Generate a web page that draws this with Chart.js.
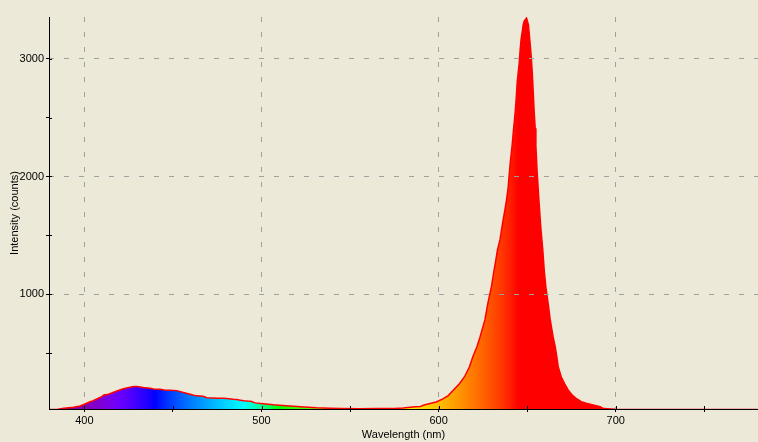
<!DOCTYPE html>
<html><head><meta charset="utf-8">
<script src="https://cdn.jsdelivr.net/npm/chart.js@4"></script>
<style>html,body{margin:0;padding:0;background:#ECE9D8;overflow:hidden}#wrap{width:758px;height:442px;position:relative}</style>
</head><body><div id="wrap"><canvas id="c"></canvas></div>
<script>
const wavelengths = [380,385,388.5,393.8,397.6,400,403.2,405,407,409.8,411,413.6,416.5,418.3,422,425.8,427.8,429.6,433.3,437.1,439,442.7,445,448.4,452.2,455.9,459.7,461.6,463.5,467,469.1,473,474.8,478.6,480.4,484,486.1,488,490,492,494,496.4,501,506.7,512,518,524,531,538.7,545,555,565,575,580,584,587,589.7,591.8,595.2,598.6,602.4,605.4,608.2,611.7,614.6,617.4,619.3,621.6,623.4,626.1,627.8,629.8,631.3,632.3,633.2,634.6,635.5,636.4,637.4,638.3,639.2,639.8,640.4,641.5,642.1,642.6,643.2,643.8,644.3,644.9,645.5,646.0,646.6,647.2,647.7,648.3,649.6,650.1,650.7,651.1,651.7,652.2,652.8,653.4,653.9,654.5,654.9,655.6,656.6,657.7,658.8,659.6,660.5,661.8,663.0,664.6,665.8,666.7,667.5,669.2,671.0,673.1,675.4,677.6,680.5,683.3,687.2,691.2,693,700,720,780];
const intensity = [22,24,32,41,52,66,88,97,111,131,145,151,168,179,198,211,216,216,208,202,196,194,188,186,182,166,151,142,139,134,122,120,117,117,116,108,106,101,96,93,92,78,71,62,56,50,44,37,32,30,29,30,30,34,41,46,48,60,73,86,112,140,185,240,300,385,470,555,640,782,924,1064,1206,1291,1376,1461,1546,1631,1716,1800,1902,2012,2114,2267,2370,2450,2545,2666,2790,2880,2965,3074,3173,3230,3286,3320,3345,3320,3286,3218,3118,3030,2895,2717,2560,2410,2260,2040,1800,1560,1376,1206,1064,924,782,640,555,470,385,300,244,188,145,117,88,75,60,46,30,24,22,22];
const xTickValues = [400,450,500,550,600,650,700,750];
const xTickLabels = ['400','','500','','600','','700',''];
const yTickValues = [500,1000,1500,2000,2500,3000];
const yTickLabels = ['','1000','','2000','','3000'];
const xTitle = 'Wavelength (nm)';
const yTitle = 'Intensity (counts)';

function spectrumRGB(w){
  let r=0,g=0,b=0;
  if(w<440){r=-(w-440)/60;b=1;}
  else if(w<490){g=(w-440)/50;b=1;}
  else if(w<510){g=1;b=-(w-510)/20;}
  else if(w<580){r=(w-510)/70;g=1;}
  else if(w<645){r=1;g=-(w-645)/65;}
  else {r=1;}
  let f=1;
  if(w<420) f=0.3+0.7*(w-380)/40;
  else if(w>700) f=0.3+0.7*(780-w)/80;
  const c=v=>Math.round(255*Math.pow(Math.max(0,v*f),0.8));
  return 'rgb('+c(r)+','+c(g)+','+c(b)+')';
}

const innerTicks = {
  id:'innerTicks',
  afterDraw(chart){
    const ctx=chart.ctx, xs=chart.scales.x, ys=chart.scales.y, a=chart.chartArea;
    ctx.save(); ctx.strokeStyle='#000'; ctx.lineWidth=1;
    ctx.beginPath();
    xs.ticks.forEach(t=>{const px=Math.round(xs.getPixelForValue(t.value))+0.5; ctx.moveTo(px,a.bottom); ctx.lineTo(px,a.bottom-3);});
    ys.ticks.forEach(t=>{const py=Math.round(ys.getPixelForValue(t.value))+0.5; ctx.moveTo(a.left,py); ctx.lineTo(a.left+3,py);});
    ctx.stroke(); ctx.restore();
  }
};

const font = {family:'"Liberation Sans", Arial, sans-serif', size:11};

new Chart(document.getElementById('c'), {
  type:'line',
  data:{datasets:[{
    data: wavelengths.map((w,i)=>({x:w,y:intensity[i]})),
    borderColor:'#FF0000', borderWidth:1.5, pointRadius:0, tension:0,
    fill:'start',
    backgroundColor:(ctx)=>{
      const chart=ctx.chart; if(!chart.chartArea) return 'rgba(0,0,0,0)';
      const xs=chart.scales.x;
      const g=chart.ctx.createLinearGradient(xs.getPixelForValue(380),0,xs.getPixelForValue(780),0);
      for(let w=380;w<=780;w+=5) g.addColorStop((w-380)/400, spectrumRGB(w));
      return g;
    }
  }]},
  options:{
    responsive:true, maintainAspectRatio:false, animation:false,
    layout:{padding:{top:17,right:0,left:0,bottom:0}},
    plugins:{legend:{display:false},tooltip:{enabled:false}},
    scales:{
      x:{type:'linear',min:380,max:780.3,
        afterBuildTicks:s=>{s.ticks=xTickValues.map(v=>({value:v}));},
        afterFit:s=>{s.height=33;},
        ticks:{color:'#000',font,padding:2,maxRotation:0,autoSkip:false,
          callback:(v)=>{const i=xTickValues.indexOf(v);return i>=0?xTickLabels[i]:'';}},
        grid:{z:1,color:c=>{const i=xTickValues.indexOf(c.tick&&c.tick.value);return (i>=0&&xTickLabels[i])?'#A0A0A0':'rgba(0,0,0,0)';},
          tickColor:'#000',tickLength:3,lineWidth:1},
        border:{z:1,color:'#000',width:1,dash:[5,10],dashOffset:0},
        title:{display:true,text:xTitle,color:'#000',font,padding:{top:0,bottom:0}}
      },
      y:{type:'linear',min:26,max:3354,
        afterBuildTicks:s=>{s.ticks=yTickValues.map(v=>({value:v}));},
        afterFit:s=>{s.width=49;},
        ticks:{color:'#000',font,padding:2,
          callback:(v)=>{const i=yTickValues.indexOf(v);return i>=0?yTickLabels[i]:'';}},
        grid:{z:1,color:c=>{const i=yTickValues.indexOf(c.tick&&c.tick.value);return (i>=0&&yTickLabels[i])?'#A0A0A0':'rgba(0,0,0,0)';},
          tickColor:'#000',tickLength:3,lineWidth:1},
        border:{z:1,color:'#000',width:1,dash:[5,10],dashOffset:1},
        title:{display:true,text:yTitle,color:'#000',font,padding:{top:8,bottom:0}}
      }
    }
  },
  plugins:[innerTicks]
});
</script></body></html>
